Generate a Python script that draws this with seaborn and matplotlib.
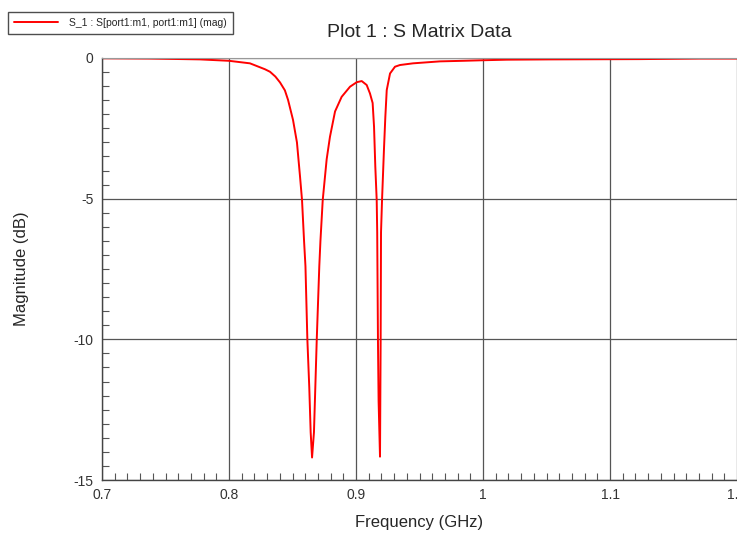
import numpy as np
import pandas as pd
import matplotlib
matplotlib.use("Agg")
import matplotlib.pyplot as plt
from matplotlib.ticker import MultipleLocator
import seaborn as sns

# S11 magnitude
freq_ghz = [0.7000, 0.7378, 0.7772, 0.8000, 0.8165, 0.8283, 0.8323, 0.8365,
            0.8402, 0.8440, 0.8465, 0.8504, 0.8535, 0.8559, 0.8575, 0.8591,
            0.8602, 0.8617, 0.8632, 0.8643, 0.8654, 0.8669, 0.8691, 0.8711,
            0.8720, 0.8738, 0.8769, 0.8795, 0.8835, 0.8887, 0.8953, 0.9006,
            0.9045, 0.9084, 0.9110, 0.9131, 0.9142, 0.9152, 0.9163, 0.9167,
            0.9173, 0.9178, 0.9189, 0.9194, 0.9197, 0.9205, 0.9220, 0.9231,
            0.9242, 0.9268, 0.9307, 0.9346, 0.9449, 0.9661, 0.9843, 1.0000,
            1.0189, 1.0528, 1.1236, 1.1709, 1.2000]
mag_db = [-0.01, -0.02, -0.05, -0.10, -0.19, -0.40, -0.49, -0.66,
          -0.87, -1.15, -1.49, -2.20, -3.00, -4.20, -5.05, -6.50,
          -7.40, -10.0, -11.7, -13.3, -14.2, -13.3, -10.0, -7.40,
          -6.50, -5.05, -3.60, -2.80, -1.90, -1.38, -1.02, -0.86,
          -0.82, -0.96, -1.26, -1.60, -2.44, -3.86, -5.05, -6.20,
          -10.1, -12.2, -14.17, -10.1, -6.20, -5.05, -3.27, -2.09,
          -1.14, -0.55, -0.31, -0.25, -0.19, -0.12, -0.10, -0.08,
          -0.06, -0.05, -0.04, -0.02, -0.02]

x_ticks = [0.7, 0.8, 0.9, 1.0, 1.1, 1.2]
x_tick_labels = ["0.7", "0.8", "0.9", "1", "1.1", "1.2"]
y_ticks = [0, -5, -10, -15]
y_tick_labels = ["0", "-5", "-10", "-15"]

df = pd.DataFrame({"freq": freq_ghz, "mag": mag_db})

sns.set_style("white", {"xtick.bottom": True, "ytick.left": True})
plt.rcParams["font.family"] = ["Liberation Sans", "DejaVu Sans"]

fig = plt.figure(figsize=(7.37, 5.33), dpi=100)
ax = fig.add_axes([0.1384, 0.0994, 0.8616, 0.7918])

sns.lineplot(data=df, x="freq", y="mag", ax=ax, color="#ff0000",
             linewidth=1.4, label="S_1 : S[port1:m1, port1:m1] (mag)", legend=False)

ax.set_xlim(0.7, 1.2)
ax.set_ylim(-15, 0)
ax.set_xticks(x_ticks)
ax.set_xticklabels(x_tick_labels)
ax.set_yticks(y_ticks)
ax.set_yticklabels(y_tick_labels)
ax.xaxis.set_minor_locator(MultipleLocator(0.01))
ax.yaxis.set_minor_locator(MultipleLocator(0.5))
ax.tick_params(which="major", length=0, labelsize=10, colors="#333333", pad=6)
ax.tick_params(axis="x", which="minor", direction="in", length=5, width=0.8,
               color="#555555", bottom=True)
ax.tick_params(axis="y", which="minor", direction="in", length=5, width=0.8,
               color="#555555", left=True)
ax.grid(True, which="major", color="#555555", linewidth=0.9)

for side in ["left", "bottom"]:
    ax.spines[side].set_color("#444444")
    ax.spines[side].set_linewidth(1.0)
ax.spines["top"].set_color("#999999")
ax.spines["right"].set_visible(False)

ax.set_xlabel("Frequency (GHz)", fontsize=12, labelpad=9)
ax.set_ylabel("Magnitude (dB)", fontsize=12, labelpad=32)
ax.set_title("Plot 1 : S Matrix Data", fontsize=14, pad=15)

handles, labels = ax.get_legend_handles_labels()
leg = fig.legend(handles, labels, loc="upper left", bbox_to_anchor=(0.011, 0.978),
                 fontsize=7.5, frameon=True, fancybox=False, borderpad=0.6,
                 handlelength=4.2, handletextpad=1.0, borderaxespad=0)
leg.get_frame().set_edgecolor("#222222")
leg.get_frame().set_linewidth(1.0)

fig.savefig("out.png", dpi=100)
